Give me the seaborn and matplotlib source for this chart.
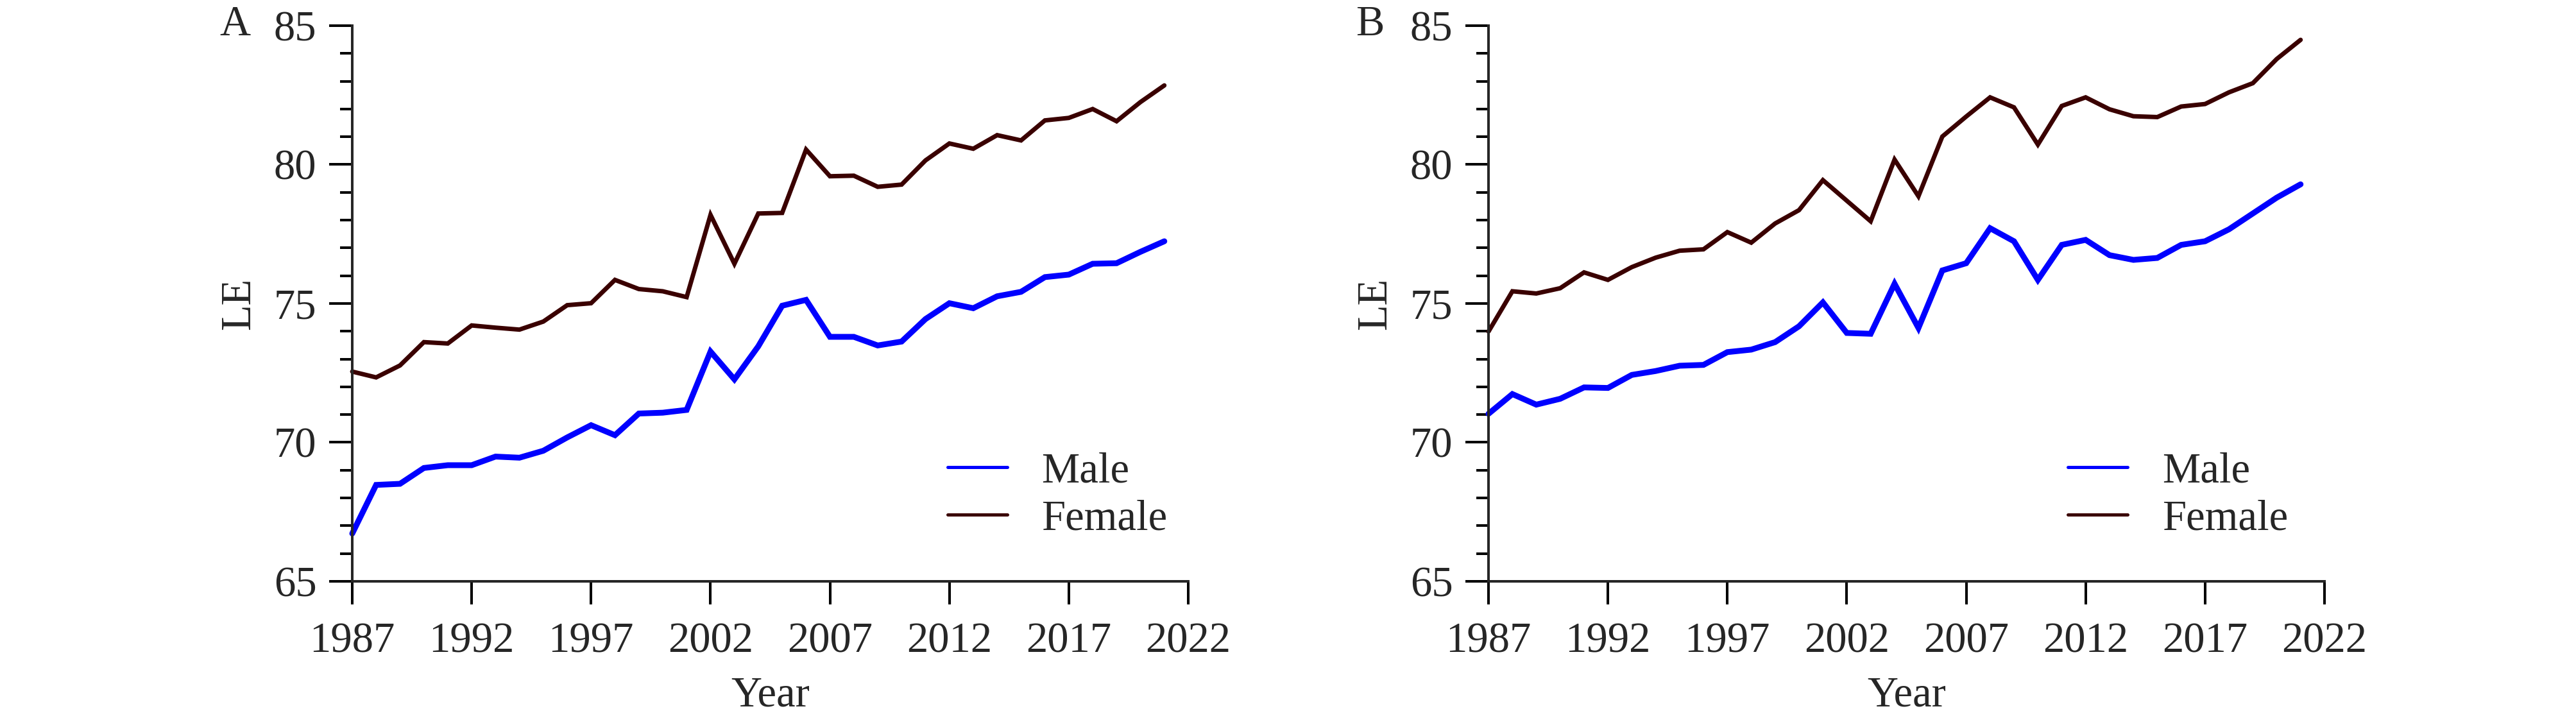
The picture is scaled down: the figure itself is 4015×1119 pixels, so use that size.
import numpy as np
import pandas as pd
import matplotlib
matplotlib.use("Agg")
import matplotlib.pyplot as plt
from matplotlib.ticker import MultipleLocator, FixedLocator
import seaborn as sns

# ---------------- data ----------------
years = list(range(1987, 2022))

male_A = [66.72, 68.47, 68.51, 69.08, 69.18, 69.18, 69.49, 69.45, 69.70, 70.18,
          70.62, 70.26, 71.04, 71.07, 71.17, 73.27, 72.27, 73.46, 74.92, 75.13,
          73.80, 73.80, 73.49, 73.63, 74.44, 75.01, 74.83, 75.26, 75.42, 75.95,
          76.04, 76.43, 76.45, 76.86, 77.24]
female_A = [72.55, 72.34, 72.77, 73.61, 73.56, 74.21, 74.13, 74.06, 74.35, 74.94,
            75.01, 75.85, 75.52, 75.44, 75.23, 78.19, 76.43, 78.24, 78.26, 80.54,
            79.58, 79.60, 79.20, 79.28, 80.15, 80.76, 80.57, 81.06, 80.87, 81.59,
            81.68, 82.00, 81.56, 82.25, 82.85]

male_B = [71.03, 71.74, 71.36, 71.57, 71.98, 71.96, 72.43, 72.57, 72.76, 72.79,
          73.25, 73.34, 73.61, 74.18, 75.04, 73.94, 73.91, 75.71, 74.12, 76.19,
          76.45, 77.71, 77.24, 75.85, 77.11, 77.29, 76.74, 76.57, 76.64, 77.11,
          77.24, 77.67, 78.24, 78.81, 79.29]
female_B = [73.99, 75.44, 75.36, 75.55, 76.12, 75.85, 76.31, 76.65, 76.90, 76.95,
            77.57, 77.19, 77.88, 78.36, 79.44, 78.70, 77.96, 80.18, 78.86, 81.01,
            81.73, 82.42, 82.06, 80.72, 82.11, 82.42, 81.99, 81.74, 81.71, 82.09,
            82.18, 82.60, 82.93, 83.80, 84.49]

panel_labels = ["A", "B"]
series_names = ["Male", "Female"]
x_ticks = [1987, 1992, 1997, 2002, 2007, 2012, 2017, 2022]
y_ticks = [65, 70, 75, 80, 85]
x_label = "Year"
y_label = "LE"

# ---------------- style ----------------
sns.set_style("ticks")
plt.rcParams["font.family"] = ["Liberation Serif", "DejaVu Serif"]
FS = 48
plt.rcParams["font.size"] = FS
plt.rcParams["axes.linewidth"] = 2.9

colors = {"Male": "#0000FF", "Female": "#3A0000"}
widths = {"Male": 6.5, "Female": 5.0}

W, H = 4016, 1119
DPI = 100
fig = plt.figure(figsize=(W / DPI, H / DPI), dpi=DPI)

ax_left_px = [549, 2320]
ax_w_px = 1303
ax_top_px, ax_bot_px = 40, 906

data = {
    "A": {"Male": male_A, "Female": female_A},
    "B": {"Male": male_B, "Female": female_B},
}
leg_x = {"A": 0.712, "B": 0.693}

for i, pl in enumerate(panel_labels):
    rect = [ax_left_px[i] / W, 1 - ax_bot_px / H, ax_w_px / W, (ax_bot_px - ax_top_px) / H]
    ax = fig.add_axes(rect)
    rows = []
    for s in series_names:
        for y, v in zip(years, data[pl][s]):
            rows.append({"Year": y, "LE": v, "Sex": s})
    df = pd.DataFrame(rows)
    for s in series_names:
        sns.lineplot(data=df[df["Sex"] == s], x="Year", y="LE", ax=ax,
                     color=colors[s], linewidth=widths[s], label=s,
                     solid_joinstyle="miter", clip_on=False)
    ax.set_xlim(1987, 2022)
    ax.set_ylim(65, 85)
    ax.xaxis.set_major_locator(FixedLocator(x_ticks))
    ax.yaxis.set_major_locator(FixedLocator(y_ticks))
    ax.yaxis.set_minor_locator(MultipleLocator(1))
    ax.tick_params(axis="both", which="major", length=26, width=2.9, labelsize=FS, color="black")
    ax.tick_params(axis="y", which="major", pad=14)
    ax.tick_params(axis="x", which="major", pad=20)
    ax.tick_params(axis="y", which="minor", length=13.7, width=2.9, color="black")
    sns.despine(ax=ax)
    ax.set_xlabel(x_label, fontsize=FS, labelpad=16)
    ax.set_ylabel(y_label, fontsize=FS)
    ax.yaxis.set_label_coords(-0.112, 0.5)
    leg = ax.legend(loc="center left", bbox_to_anchor=(leg_x[pl], 0.155),
                    frameon=False, fontsize=FS, handlelength=1.4,
                    handletextpad=0.8, labelspacing=0.2,
                    borderpad=0, borderaxespad=0)
    for h in leg.get_lines():
        h.set_linewidth(3.6)
    fig.text((ax_left_px[i] - 207) / W, 1 - 55 / H, pl, fontsize=FS,
             ha="left", va="baseline")

fig.savefig("out.png", dpi=DPI, facecolor="white")
